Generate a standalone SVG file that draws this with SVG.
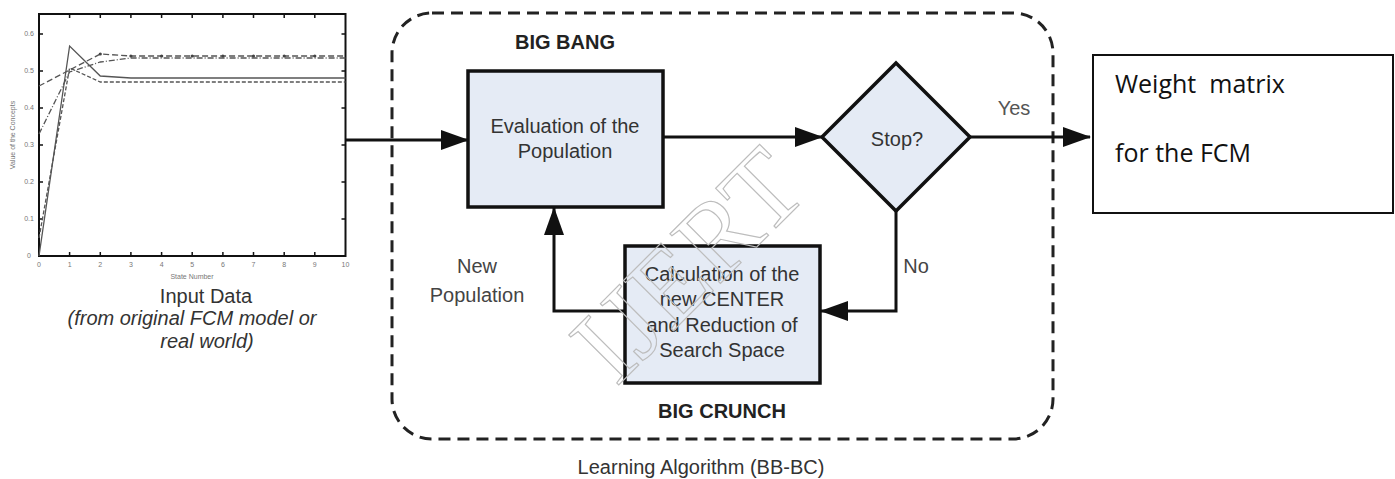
<svg xmlns="http://www.w3.org/2000/svg" width="1395" height="479" viewBox="0 0 1395 479">
<style>
.lbl{font-family:"Liberation Sans",Arial,sans-serif;font-size:20px;fill:#333;text-anchor:middle}
.bold{font-weight:bold;fill:#222}
.box{fill:#e5ebf5;stroke:#111;stroke-width:3.5}
.conn{fill:none;stroke:#111;stroke-width:3}
.tick{stroke:#111;stroke-width:1.5}
.tl{font-family:"Liberation Sans",Arial,sans-serif;font-size:7px;fill:#777;text-anchor:middle}
.cal{font-family:"Open Sans","Noto Sans",sans-serif;font-size:25px;fill:#111;white-space:pre}
</style>
<defs>
<marker id="ah" viewBox="0 0 28 20" refX="27" refY="10" markerWidth="28" markerHeight="20" markerUnits="userSpaceOnUse" orient="auto">
<path d="M0,0 L28,10 L0,20 z" fill="#111"/>
</marker>
</defs>
<rect width="1395" height="479" fill="#fff"/>

<g id="chart">
<rect x="39" y="14" width="306.5" height="242" fill="#fff" stroke="#111" stroke-width="2"/>
<g class="tick">
<path d="M69.6,256v-4M100.3,256v-4M130.9,256v-4M161.6,256v-4M192.2,256v-4M222.9,256v-4M253.5,256v-4M284.2,256v-4M314.8,256v-4"/>
<path d="M69.6,14v4M100.3,14v4M130.9,14v4M161.6,14v4M192.2,14v4M222.9,14v4M253.5,14v4M284.2,14v4M314.8,14v4"/>
<path d="M39,219h4M39,182h4M39,145h4M39,108h4M39,71h4M39,34h4"/>
<path d="M345.5,219h-4M345.5,182h-4M345.5,145h-4M345.5,108h-4M345.5,71h-4M345.5,34h-4"/>
</g>
<g fill="none" stroke="#555" stroke-width="1.3">
<polyline points="39,256 69.6,46 100.3,76 130.9,78 345.5,78"/>
<polyline points="39,238 69.6,68 100.3,82 345.5,82" stroke-dasharray="4 2"/>
<polyline points="39,86 69.6,70 100.3,54 130.9,56 345.5,56" stroke-dasharray="6 3"/>
<polyline points="39,134 69.6,72 100.3,62 130.9,58 345.5,58" stroke-dasharray="6 2 1 2"/>
</g>
<g fill="#444">
<circle cx="100.3" cy="54" r="1.6"/><circle cx="130.9" cy="56" r="1.6"/><circle cx="161.6" cy="56" r="1.6"/><circle cx="192.2" cy="56" r="1.6"/><circle cx="222.9" cy="56" r="1.6"/><circle cx="253.5" cy="56" r="1.6"/><circle cx="284.2" cy="56" r="1.6"/><circle cx="314.8" cy="56" r="1.6"/>
</g>
<g class="tl">
<text x="29" y="258">0</text><text x="29" y="221">0.1</text><text x="29" y="184">0.2</text><text x="29" y="147">0.3</text><text x="29" y="110">0.4</text><text x="29" y="73">0.5</text><text x="29" y="36">0.6</text>
<text x="39" y="267">0</text><text x="69.6" y="267">1</text><text x="100.3" y="267">2</text><text x="130.9" y="267">3</text><text x="161.6" y="267">4</text><text x="192.2" y="267">5</text><text x="222.9" y="267">6</text><text x="253.5" y="267">7</text><text x="284.2" y="267">8</text><text x="314.8" y="267">9</text><text x="345.5" y="267">10</text>
<text x="192" y="279">State Number</text>
<text transform="translate(15,135) rotate(-90)">Value of the Concepts</text>
</g>
<text class="lbl" x="206" y="303">Input Data</text>
<text class="lbl" x="192" y="325" font-style="italic">(from original FCM model or</text>
<text class="lbl" x="207" y="348" font-style="italic">real world)</text>
</g>

<g id="learning-algorithm">
<rect x="392" y="13" width="661" height="426" rx="40" ry="40" fill="none" stroke="#222" stroke-width="3" stroke-dasharray="12 7"/>
<text class="lbl" x="701" y="474" font-size="19">Learning Algorithm (BB-BC)</text>
</g>

<g id="evaluation">
<text class="lbl bold" x="565" y="49" font-size="19">BIG BANG</text>
<rect class="box" x="468" y="71" width="195" height="136"/>
<text class="lbl" x="565" y="133">Evaluation of the</text>
<text class="lbl" x="565" y="158">Population</text>
</g>

<g id="stop">
<polygon class="box" points="822,137 896,63 970,137 896,211" stroke-width="3"/>
<text class="lbl" x="897" y="146">Stop?</text>
</g>

<g id="calculation">
<rect class="box" x="625" y="246" width="195" height="137"/>
<text class="lbl" x="722" y="281">Calculation of the</text>
<text class="lbl" x="722" y="306">new CENTER</text>
<text class="lbl" x="722" y="332">and Reduction of</text>
<text class="lbl" x="722" y="357">Search Space</text>
<text class="lbl bold" x="722" y="418" font-size="19">BIG CRUNCH</text>
</g>

<g id="weight-matrix">
<rect x="1093" y="55" width="300" height="158" fill="#fff" stroke="#111" stroke-width="2"/>
<text class="cal" x="1115" y="93">Weight  matrix</text>
<text class="cal" x="1115" y="162">for the FCM</text>
</g>

<g id="connectors">
<path class="conn" d="M345,140 H468" marker-end="url(#ah)"/>
<path class="conn" d="M663,137 H822" marker-end="url(#ah)"/>
<path class="conn" d="M970,137 H1090" marker-end="url(#ah)"/>
<path class="conn" d="M896,211 V311 H821" marker-end="url(#ah)"/>
<path class="conn" d="M625,311 H554 V208" marker-end="url(#ah)"/>
<text class="lbl" x="1014" y="115" style="fill:#555">Yes</text>
<text class="lbl" x="916" y="273" style="fill:#444">No</text>
<text class="lbl" x="477" y="273" style="fill:#444">New</text>
<text class="lbl" x="477" y="302" style="fill:#444">Population</text>
</g>

<g id="watermark">
<text transform="translate(688,265) rotate(-45)" x="0" y="36" font-family="Liberation Serif,serif" font-size="108" text-anchor="middle" fill="none" stroke="#bdbdbd" stroke-width="1.2">IJERT</text>
</g>
</svg>
